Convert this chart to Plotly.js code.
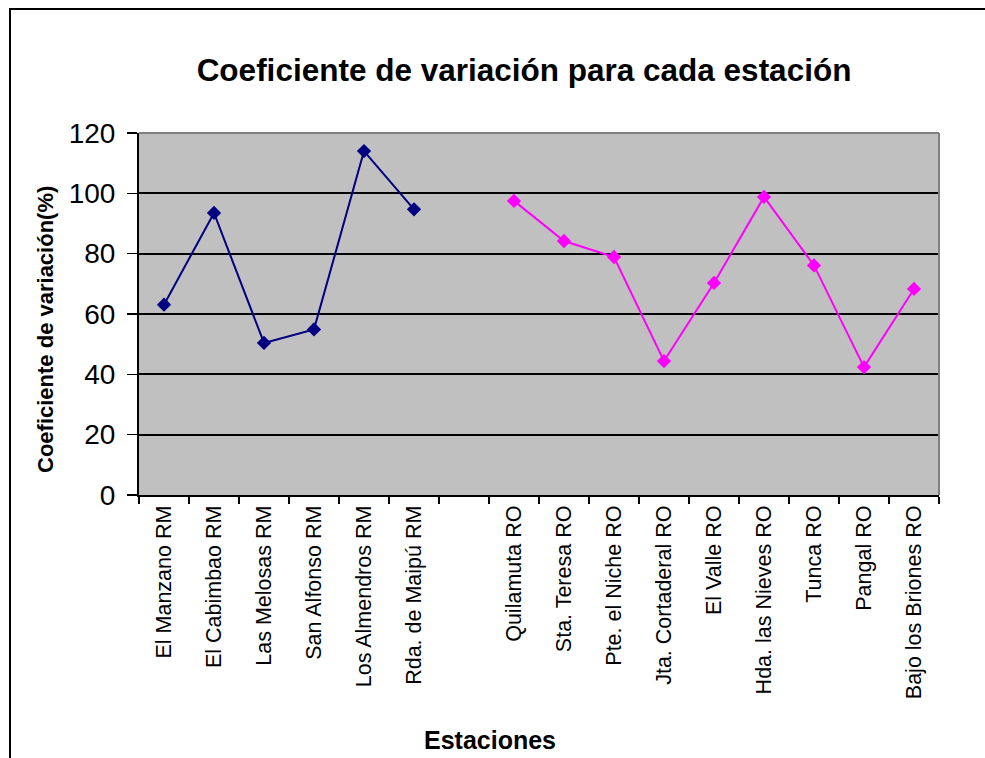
<!DOCTYPE html>
<html>
<head>
<meta charset="utf-8">
<script src="https://cdn.plot.ly/plotly-3.0.1.min.js"></script>
<style>
  html, body { margin: 0; padding: 0; background: #ffffff; overflow: hidden; }
  #wrap { position: relative; width: 985px; height: 758px; overflow: hidden; }
  #chart { position: absolute; left: 0; top: 0; width: 985px; height: 758px; }
  #frame { position: absolute; left: 9px; top: 8px; width: 1000px; height: 800px; border: 2px solid #000; box-sizing: border-box; pointer-events: none; }
</style>
</head>
<body>
<div id="wrap">
  <div id="chart"></div>
  <div id="frame"></div>
</div>
<script>
// Data
const stationsRM = ['El Manzano RM', 'El Cabimbao RM', 'Las Melosas RM', 'San Alfonso RM', 'Los Almendros RM', 'Rda. de Maipú RM'];
const valuesRM = [63.1, 93.5, 50.4, 54.9, 114.0, 94.7];
const gapLabel = [' '];
const stationsRO = ['Quilamuta RO', 'Sta. Teresa RO', 'Pte. el Niche RO', 'Jta. Cortaderal RO', 'El Valle RO', 'Hda. las Nieves RO', 'Tunca RO', 'Pangal RO', 'Bajo los Briones RO'];
const valuesRO = [97.5, 84.2, 78.9, 44.4, 70.3, 98.8, 76.1, 42.4, 68.3];
const yTickVals = [0, 20, 40, 60, 80, 100, 120];

const allCats = stationsRM.concat(gapLabel, stationsRO);
const font = 'Liberation Sans, Arial, Helvetica, sans-serif';

const traces = [
  {
    x: stationsRM, y: valuesRM, type: 'scatter', mode: 'lines+markers',
    line: {color: '#000080', width: 2},
    marker: {symbol: 'diamond', size: 11, color: '#000080'},
    showlegend: false, hoverinfo: 'x+y'
  },
  {
    x: gapLabel, y: [null], type: 'scatter', mode: 'markers',
    showlegend: false, hoverinfo: 'skip'
  },
  {
    x: stationsRO, y: valuesRO, type: 'scatter', mode: 'lines+markers',
    line: {color: '#ff00ff', width: 2},
    marker: {symbol: 'diamond', size: 11, color: '#ff00ff'},
    showlegend: false, hoverinfo: 'x+y'
  }
];

const layout = {
  width: 985, height: 758,
  paper_bgcolor: 'rgba(0,0,0,0)',
  plot_bgcolor: '#c0c0c0',
  margin: {l: 139, r: 46, t: 133, b: 263, pad: 0},
  font: {family: font, color: '#000'},
  title: {
    text: '<b>Coeficiente de variación para cada estación</b>',
    font: {family: font, size: 31.5, color: '#000'},
    x: 0.532, xref: 'container', xanchor: 'center',
    y: 1 - 70 / 758, yref: 'container', yanchor: 'middle'
  },
  xaxis: {
    type: 'category',
    categoryorder: 'array',
    categoryarray: allCats,
    range: [-0.5, allCats.length - 0.5],
    tickson: 'boundaries',
    ticks: 'outside', ticklen: 7, tickwidth: 1.5, tickcolor: '#000',
    tickangle: -90,
    tickfont: {family: font, size: 21.5, color: '#000'},
    showline: true, linecolor: '#000', linewidth: 2,
    showgrid: false, zeroline: false,
    fixedrange: true
  },
  yaxis: {
    range: [0, 120],
    tickvals: yTickVals,
    ticks: 'outside', ticklen: 10, tickwidth: 1.5, tickcolor: '#000',
    tickfont: {family: font, size: 28, color: '#000'},
    ticklabelstandoff: 6,
    showline: true, linecolor: '#000', linewidth: 2,
    showgrid: true, gridcolor: '#000', gridwidth: 2,
    zeroline: false,
    fixedrange: true
  },
  shapes: [
    {type: 'line', xref: 'paper', yref: 'paper', x0: 0, x1: 1, y0: 1, y1: 1, line: {color: '#808080', width: 2}},
    {type: 'line', xref: 'paper', yref: 'paper', x0: 1, x1: 1, y0: 0, y1: 1, line: {color: '#808080', width: 2}}
  ],
  annotations: [
    {
      text: '<b>Estaciones</b>', xref: 'paper', yref: 'paper',
      x: (490 - 139) / 800, y: (495 - 740) / 362,
      xanchor: 'center', yanchor: 'middle', showarrow: false,
      font: {family: font, size: 25, color: '#000'}
    },
    {
      text: '<b>Coeficiente de variación(%)</b>', xref: 'paper', yref: 'paper',
      x: (45 - 139) / 800, y: (495 - 330) / 362, textangle: -90,
      xanchor: 'center', yanchor: 'middle', showarrow: false,
      font: {family: font, size: 22, color: '#000'}
    }
  ]
};

Plotly.newPlot('chart', traces, layout, {displayModeBar: false, staticPlot: true});
</script>
</body>
</html>
